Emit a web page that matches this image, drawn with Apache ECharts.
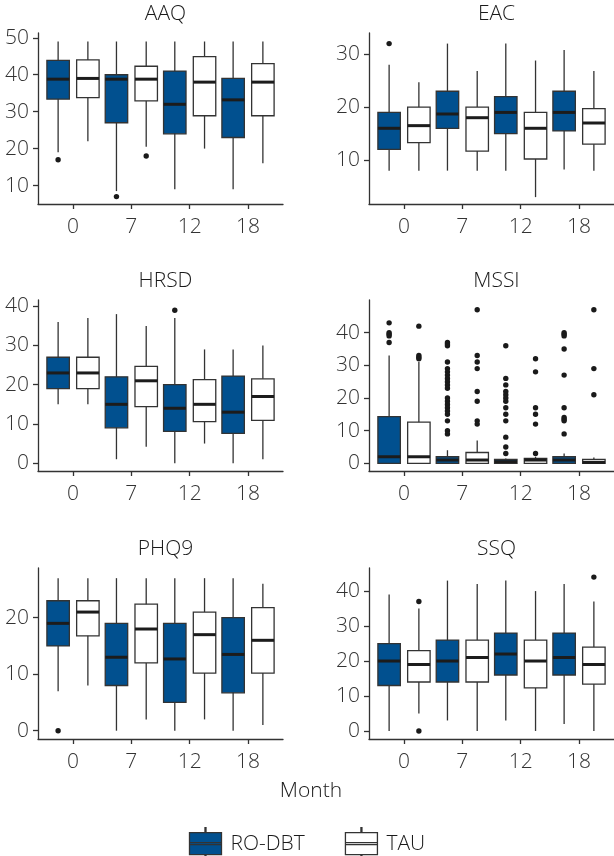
<!DOCTYPE html>
<html>
<head>
<meta charset="utf-8">
<script src="https://cdn.jsdelivr.net/npm/echarts@6/dist/echarts.min.js"></script>
<style>
html,body{margin:0;padding:0;background:#fff;}
#chart{width:614px;height:856px;}
</style>
</head>
<body>
<div id="chart"></div>
<script>
// ---------- data ----------
const months = ['0', '7', '12', '18'];
const groups = ['RO-DBT', 'TAU'];
// each box: [lower whisker, Q1, median, Q3, upper whisker], one per month
const AAQ_RO  = [[19, 33.4, 38.8, 43.9, 49], [8.5, 27, 38.8, 40, 49], [9, 24, 32, 41, 49], [9, 23, 33.2, 39, 49]];
const AAQ_TAU = [[22, 33.8, 39, 44, 49], [20.5, 32.9, 38.8, 42.3, 49], [20, 28.9, 38, 44.9, 49], [16, 28.9, 38, 43, 49]];
const AAQ_RO_OUT  = [[17], [7], [], []];
const AAQ_TAU_OUT = [[], [18], [], []];

const EAC_RO  = [[8, 12, 16, 19, 28], [8, 16, 18.7, 23, 32], [8, 15, 19, 22, 32], [8.2, 15.5, 19, 23, 30.8]];
const EAC_TAU = [[8, 13.3, 16.5, 20, 24.7], [8, 11.7, 18, 20, 26.8], [3, 10.2, 16, 19, 28.8], [8, 13, 17, 19.7, 26.8]];
const EAC_RO_OUT  = [[32], [], [], []];
const EAC_TAU_OUT = [[], [], [], []];

const HRSD_RO  = [[15, 19, 23, 27, 36], [1, 9, 15, 22, 38], [0, 8.1, 14, 20, 37], [0, 7.6, 13, 22.2, 29]];
const HRSD_TAU = [[15, 19, 23, 27, 37], [4.2, 14.4, 21, 24.7, 35], [5, 10.6, 15, 21.3, 29], [1, 10.9, 17, 21.5, 30]];
const HRSD_RO_OUT  = [[], [], [39], []];
const HRSD_TAU_OUT = [[], [], [], []];

const MSSI_RO  = [[0, 0, 2, 14.3, 33], [0, 0, 1, 2, 4], [0, 0, 0.5, 1.2, 1.5], [0, 0, 1, 2, 3]];
const MSSI_TAU = [[0, 0, 2, 12.6, 31], [0, 0, 1, 3.3, 7], [0, 0, 1, 1.5, 2], [0, 0, 0.3, 1.2, 1.8]];
const MSSI_RO_OUT = [
  [43, 40, 39.5, 39, 37],
  [37, 36.5, 36, 31, 29, 28, 27, 26, 25, 24, 23, 20, 19, 18, 17, 16, 15, 13, 10, 9],
  [36, 26, 24, 22, 21, 20, 19, 17, 15, 13, 8, 5, 3],
  [40, 39.5, 39, 35, 27, 17, 14, 13.5, 13, 9]
];
const MSSI_TAU_OUT = [
  [42, 33, 32.5, 32],
  [47, 33, 31, 29, 22, 19, 13, 12],
  [32, 28, 17, 15, 12, 3],
  [47, 29, 21]
];

const PHQ9_RO  = [[7, 15, 19, 23, 27], [0, 8, 13, 19, 27], [0, 5, 12.7, 19, 27], [0, 6.7, 13.5, 20, 27]];
const PHQ9_TAU = [[8, 16.8, 21, 23, 27], [2, 12, 18, 22.4, 27], [2, 10.2, 17, 21, 27], [1, 10.2, 16, 21.8, 26]];
const PHQ9_RO_OUT  = [[0], [], [], []];
const PHQ9_TAU_OUT = [[], [], [], []];

const SSQ_RO  = [[0, 13, 20, 25, 39], [3, 14, 20, 26, 43], [3, 16, 22, 28, 43], [2, 16, 21, 28, 42]];
const SSQ_TAU = [[5, 14, 19, 23, 35], [0, 14, 21, 26, 42], [0, 12.3, 20, 26, 40], [0, 13.4, 19, 24, 37]];
const SSQ_RO_OUT  = [[], [], [], []];
const SSQ_TAU_OUT = [[37, 0], [], [], [44]];

const panelNames = ['AAQ', 'EAC', 'HRSD', 'MSSI', 'PHQ9', 'SSQ'];
const yTicks = [[10, 20, 30, 40, 50], [10, 20, 30], [0, 10, 20, 30, 40], [0, 10, 20, 30, 40], [0, 10, 20], [0, 10, 20, 30, 40]];
const yRanges = [[5.0, 51.3], [1.7, 34], [-2, 41.6], [-2.36, 50], [-1.47, 28.8], [-2.3, 46.6]];

// ---------- layout / style ----------
const FONT = 'Open Sans';
const FW = 300;
const BLUE = '#01508f';
const INK = '#333333';
const gridPos = [[38, 33], [369, 33], [38, 300], [369, 300], [38, 568], [369, 568]];
const GW = 245, GH = 171;
const DODGE = 0.255, BOXW = 0.385;

const panels = [
  [AAQ_RO, AAQ_TAU, AAQ_RO_OUT, AAQ_TAU_OUT],
  [EAC_RO, EAC_TAU, EAC_RO_OUT, EAC_TAU_OUT],
  [HRSD_RO, HRSD_TAU, HRSD_RO_OUT, HRSD_TAU_OUT],
  [MSSI_RO, MSSI_TAU, MSSI_RO_OUT, MSSI_TAU_OUT],
  [PHQ9_RO, PHQ9_TAU, PHQ9_RO_OUT, PHQ9_TAU_OUT],
  [SSQ_RO, SSQ_TAU, SSQ_RO_OUT, SSQ_TAU_OUT]
];

function boxRenderer(dodge, fill) {
  return function (params, api) {
    const x = api.value(0);
    const unit = api.size([1, 0])[0];
    const off = dodge * unit;
    const hw = BOXW * unit / 2;
    const pLow = api.coord([x, api.value(1)]);
    const pQ1 = api.coord([x, api.value(2)]);
    const pMed = api.coord([x, api.value(3)]);
    const pQ3 = api.coord([x, api.value(4)]);
    const pHigh = api.coord([x, api.value(5)]);
    const cx = pLow[0] + off;
    return {
      type: 'group',
      children: [
        { type: 'line', shape: { x1: cx, y1: pHigh[1], x2: cx, y2: pLow[1] }, style: { stroke: INK, lineWidth: 1.3 } },
        { type: 'rect', shape: { x: cx - hw, y: pQ3[1], width: 2 * hw, height: pQ1[1] - pQ3[1] }, style: { fill: fill, stroke: INK, lineWidth: 1.3 } },
        { type: 'line', shape: { x1: cx - hw, y1: pMed[1], x2: cx + hw, y2: pMed[1] }, style: { stroke: '#1c1c1c', lineWidth: 3 } }
      ]
    };
  };
}
function outRenderer(dodge) {
  return function (params, api) {
    const unit = api.size([1, 0])[0];
    const p = api.coord([api.value(0), api.value(1)]);
    return { type: 'circle', shape: { cx: p[0] + dodge * unit, cy: p[1], r: 2.7 }, style: { fill: '#1a1a1a' } };
  };
}

const grid = [], xAxis = [], yAxis = [], series = [], title = [];
panels.forEach((pn, i) => {
  grid.push({ left: gridPos[i][0], top: gridPos[i][1], width: GW, height: GH });
  title.push({
    text: panelNames[i], left: gridPos[i][0] + GW / 2, top: gridPos[i][1] - 34, textAlign: 'center',
    textStyle: { fontFamily: FONT, fontSize: 21, fontWeight: FW, color: '#1a1a1a' }
  });
  xAxis.push({
    gridIndex: i, type: 'value', min: -0.6, max: 3.6,
    splitLine: { show: false },
    axisLine: { show: true, onZero: false, lineStyle: { color: INK, width: 1.3 } },
    axisTick: { show: true, length: 5, customValues: [0, 1, 2, 3], lineStyle: { color: INK, width: 1.3 } },
    axisLabel: { customValues: [0, 1, 2, 3], formatter: v => months[Math.round(v)], margin: 13, fontFamily: FONT, fontWeight: FW, fontSize: 21, color: '#333' }
  });
  yAxis.push({
    gridIndex: i, type: 'value', min: yRanges[i][0], max: yRanges[i][1],
    splitLine: { show: false },
    axisLine: { show: true, onZero: false, lineStyle: { color: INK, width: 1.3 } },
    axisTick: { show: true, length: 5, customValues: yTicks[i], lineStyle: { color: INK, width: 1.3 } },
    axisLabel: { customValues: yTicks[i], margin: 9, fontFamily: FONT, fontWeight: FW, fontSize: 21, color: '#333' }
  });
  [0, 1].forEach(g => {
    const dodge = g === 0 ? -DODGE : DODGE;
    series.push({
      type: 'custom', name: groups[g], xAxisIndex: i, yAxisIndex: i,
      itemStyle: { color: g === 0 ? BLUE : '#ffffff' },
      encode: { x: 0, y: [1, 2, 3, 4, 5] },
      renderItem: boxRenderer(dodge, g === 0 ? BLUE : '#ffffff'),
      data: pn[g].map((b, m) => [m].concat(b)),
      z: 2
    });
  });
  [0, 1].forEach(g => {
    const dodge = g === 0 ? -DODGE : DODGE;
    const pts = [];
    pn[2 + g].forEach((vals, m) => vals.forEach(v => pts.push([m, v])));
    series.push({
      type: 'custom', name: groups[g] + ' outliers', xAxisIndex: i, yAxisIndex: i,
      encode: { x: 0, y: 1 },
      renderItem: outRenderer(dodge),
      data: pts,
      z: 3
    });
  });
});

title.push({
  text: 'Month', left: 306, top: 776, textAlign: 'center',
  textStyle: { fontFamily: FONT, fontSize: 21, fontWeight: FW, color: '#1a1a1a' }
});

const ICON = 'path://M15.5 0H16.5V5H15.5Z M0 5H32V27H0Z M0 15H32V17H0Z M15.5 27H16.5V33H15.5Z';

const chart = echarts.init(document.getElementById('chart'), null, { renderer: 'canvas' });
chart.setOption({
  backgroundColor: '#ffffff',
  animation: false,
  title: title,
  grid: grid,
  xAxis: xAxis,
  yAxis: yAxis,
  legend: {
    left: 'center', top: 822,
    itemWidth: 32, itemHeight: 33, itemGap: 40,
    selectedMode: false,
    textStyle: { fontFamily: FONT, fontWeight: FW, fontSize: 21, color: '#1a1a1a', padding: [0, 0, 0, 4] },
    data: [
      { name: 'RO-DBT', icon: ICON, itemStyle: { color: BLUE, borderColor: INK, borderWidth: 1.3 } },
      { name: 'TAU', icon: ICON, itemStyle: { color: '#ffffff', borderColor: INK, borderWidth: 1.3 } }
    ]
  },
  series: series
});
</script>
</body>
</html>
